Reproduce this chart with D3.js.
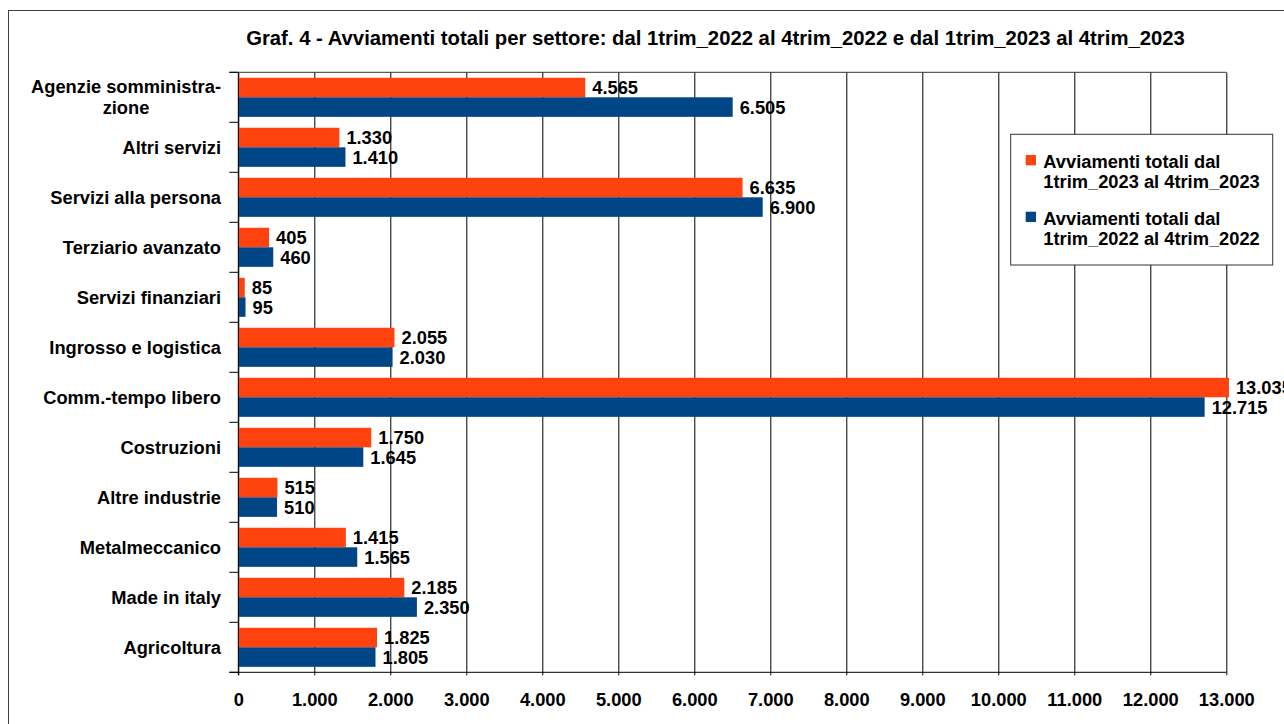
<!DOCTYPE html>
<html>
<head>
<meta charset="utf-8">
<script src="https://cdn.jsdelivr.net/npm/d3@7"></script>
<style>
  html, body { margin: 0; padding: 0; background: #ffffff; }
  svg { display: block; font-family: "Liberation Sans", Arial, sans-serif; }
</style>
</head>
<body>
<svg id="chart" width="1284" height="724"></svg>
<script>
// ---- Data ----
const categories = [
  "Agenzie somministra-\nzione",
  "Altri servizi",
  "Servizi alla persona",
  "Terziario avanzato",
  "Servizi finanziari",
  "Ingrosso e logistica",
  "Comm.-tempo libero",
  "Costruzioni",
  "Altre industrie",
  "Metalmeccanico",
  "Made in italy",
  "Agricoltura"
];
const seriesNames = [
  "Avviamenti totali dal\n1trim_2023 al 4trim_2023",
  "Avviamenti totali dal\n1trim_2022 al 4trim_2022"
];
const values2023 = [4565, 1330, 6635, 405, 85, 2055, 13035, 1750, 515, 1415, 2185, 1825];
const values2022 = [6505, 1410, 6900, 460, 95, 2030, 12715, 1645, 510, 1565, 2350, 1805];
const xTicks = [0, 1000, 2000, 3000, 4000, 5000, 6000, 7000, 8000, 9000, 10000, 11000, 12000, 13000];
const titleText = "Graf. 4 - Avviamenti totali per settore: dal 1trim_2022 al 4trim_2022 e dal 1trim_2023 al 4trim_2023";

// ---- Layout ----
const colors = ["#ff420e", "#004586"];
const plot = { left: 238.3, right: 1226.3, top: 72.3, bottom: 672.3 };
const FS = 18.3;
const svg = d3.select("#chart");
const it = d3.formatLocale({ decimal: ",", thousands: ".", grouping: [3], currency: ["€", ""] });
const fmt = it.format(",d");

const x = d3.scaleLinear().domain([0, 13000]).range([plot.left, plot.right]);
const y0 = d3.scaleBand().domain(categories).range([plot.top, plot.bottom]).padding(0);
const y1 = d3.scaleBand().domain([0, 1]).range([0, y0.bandwidth()]).paddingInner(0).paddingOuter(0.28);

const seriesData = [values2023, values2022];

// outer border
svg.append("rect").attr("x", 8.5).attr("y", 10.5).attr("width", 1300).attr("height", 740)
  .attr("fill", "none").attr("stroke", "#404040").attr("stroke-width", 1);

// title
svg.append("text").attr("x", 715.5).attr("y", 45).attr("text-anchor", "middle")
  .attr("font-size", 20.3).attr("font-weight", "bold").attr("fill", "#000")
  .text(titleText);

// vertical gridlines + x ticks
const xAxis = d3.axisBottom(x).tickValues(xTicks).tickFormat(fmt)
  .tickSizeInner(-(plot.bottom - plot.top)).tickSizeOuter(0).tickPadding(0);
const gx = svg.append("g").attr("transform", `translate(0,${plot.bottom})`).call(xAxis);
gx.select(".domain").remove();
gx.selectAll(".tick line").attr("y1", 3).attr("y2", -(plot.bottom - plot.top)).attr("stroke", "#000").attr("stroke-width", 1);
gx.selectAll(".tick text").attr("y", 34).attr("dy", null).attr("font-size", FS).attr("font-weight", "bold")
  .attr("fill", "#000").attr("font-family", "Liberation Sans, Arial, sans-serif");

// top frame line
svg.append("line").attr("x1", plot.left - 9).attr("x2", plot.right).attr("y1", plot.top).attr("y2", plot.top)
  .attr("stroke", "#333").attr("stroke-width", 1);

// bars
categories.forEach((c, i) => {
  seriesData.forEach((vals, s) => {
    svg.append("rect")
      .attr("x", x(0))
      .attr("y", y0(c) + y1(s))
      .attr("width", x(vals[i]) - x(0))
      .attr("height", y1.bandwidth())
      .attr("fill", colors[s]);
  });
});

// y axis line and ticks at band boundaries
svg.append("line").attr("x1", plot.left).attr("x2", plot.left).attr("y1", plot.top).attr("y2", plot.bottom + 3)
  .attr("stroke", "#000").attr("stroke-width", 1);
const bounds = categories.map(c => y0(c)).concat([plot.bottom]);
svg.selectAll(".ytick").data(bounds).enter().append("line")
  .attr("x1", plot.left - 9).attr("x2", plot.left).attr("y1", d => d).attr("y2", d => d)
  .attr("stroke", "#000").attr("stroke-width", 1);
// x axis baseline
svg.append("line").attr("x1", plot.left - 9).attr("x2", plot.right).attr("y1", plot.bottom).attr("y2", plot.bottom)
  .attr("stroke", "#000").attr("stroke-width", 1);

// value labels
categories.forEach((c, i) => {
  seriesData.forEach((vals, s) => {
    svg.append("text")
      .attr("x", x(vals[i]) + 7)
      .attr("y", y0(c) + y1(s) + y1.bandwidth() / 2 + 6.5)
      .attr("font-size", FS).attr("font-weight", "bold").attr("fill", "#000")
      .text(fmt(vals[i]));
  });
});

// category labels
const labelRight = 221;
categories.forEach(c => {
  const lines = c.split("\n");
  const cy = y0(c) + y0.bandwidth() / 2;
  const lh = 20.7;
  const t = svg.append("text").attr("font-size", FS).attr("font-weight", "bold").attr("fill", "#000");
  lines.forEach((ln, k) => {
    t.append("tspan").attr("y", cy - (lines.length - 1) * lh / 2 + k * lh + 6.5).text(ln);
  });
  let maxW = 0;
  t.selectAll("tspan").each(function () { maxW = Math.max(maxW, this.getComputedTextLength()); });
  if (lines.length > 1) {
    t.attr("text-anchor", "middle");
    t.selectAll("tspan").attr("x", labelRight - maxW / 2);
  } else {
    t.attr("text-anchor", "end");
    t.selectAll("tspan").attr("x", labelRight);
  }
});

// legend
const lg = svg.append("g");
lg.append("rect").attr("x", 1010.7).attr("y", 134.3).attr("width", 262).attr("height", 130.7)
  .attr("fill", "#fff").attr("stroke", "#333").attr("stroke-width", 1);
seriesNames.forEach((name, s) => {
  const top = 155 + s * 56.7;
  lg.append("rect").attr("x", 1025.7).attr("y", top).attr("width", 10.3).attr("height", 10.3).attr("fill", colors[s]);
  const t = lg.append("text").attr("font-size", FS).attr("font-weight", "bold").attr("fill", "#000");
  name.split("\n").forEach((ln, k) => {
    t.append("tspan").attr("x", 1043.3).attr("y", top + 13.3 + k * 20).text(ln);
  });
});
</script>
</body>
</html>
